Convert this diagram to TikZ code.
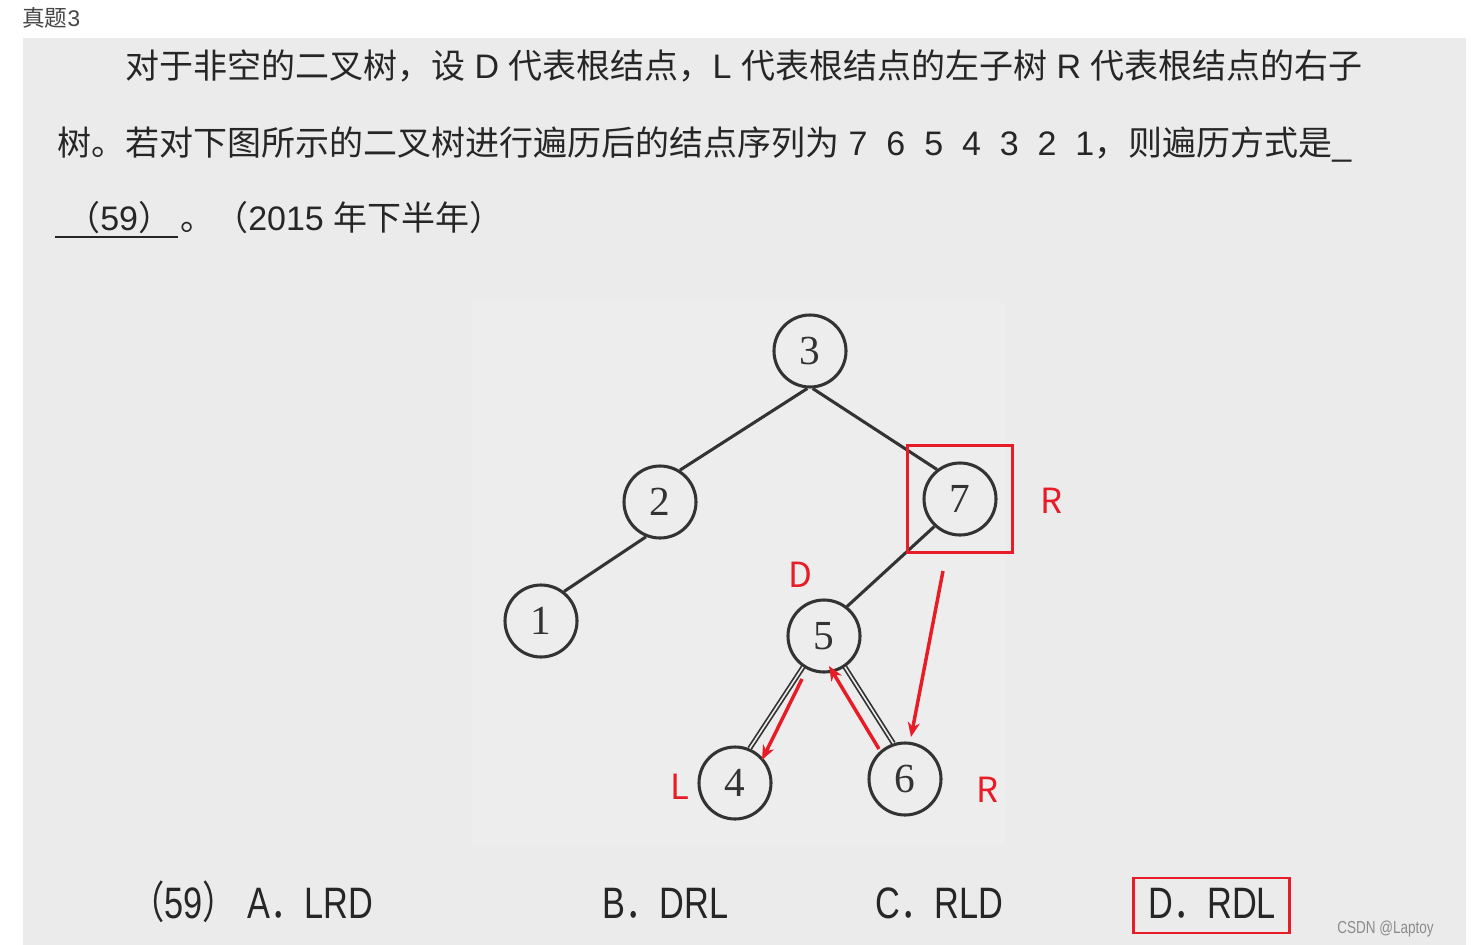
\documentclass[tikz,border=0pt]{standalone}
\usepackage{fontspec}
\setmainfont{Liberation Sans}
\newfontfamily\cjk{Noto Sans CJK SC}
\newfontfamily\narrow{Liberation Sans}[FakeStretch=0.78]
\newfontfamily\cjknarrow{Noto Sans CJK SC}[FakeStretch=0.78]
\newfontfamily\numfont{Liberation Serif}
\usetikzlibrary{arrows.meta}
\definecolor{panel}{HTML}{EBEBEB}
\definecolor{innerbg}{HTML}{EDEDED}
\definecolor{ink}{HTML}{262626}
\definecolor{treeline}{HTML}{333333}
\definecolor{mark}{RGB}{232,28,38}
\tikzset{
  treenode/.style={circle, draw=treeline, line width=2.3pt, minimum size=54pt, inner sep=0pt,
     font=\numfont\fontsize{31}{31}\selectfont, text=treeline},
  edge/.style={draw=treeline, line width=2.3pt},
  dedge/.style={draw=treeline, line width=1.3pt, double=innerbg, double distance=1.2pt},
  redarrow/.style={draw=mark, line width=2.6pt, -{Stealth[length=11pt,width=9pt]}},
  redlabel/.style={text=mark, font=\cjk\fontsize{26}{26}\selectfont, inner sep=0pt},
  txt/.style={anchor=base west, inner sep=0pt, text=ink, font=\fontsize{25.5}{25.5}\selectfont},
  opt/.style={anchor=base west, inner sep=0pt, text=ink, font=\narrow\fontsize{33}{33}\selectfont},
}
\begin{document}
\begin{tikzpicture}[x=0.75pt,y=-0.75pt]
\useasboundingbox (0,0) rectangle (1471,945);
\fill[white] (0,0) rectangle (1471,945);
\fill[panel] (23,38) rectangle (1466,945);
\fill[innerbg] (472,303) rectangle (1005,845);

% title
\node[anchor=base west, inner sep=0pt, text=ink!85, font=\cjk\fontsize{17}{17}\selectfont] (title) at (22,27) {真题{\fontspec{Liberation Sans}3}};

% question text
\node[txt] (line1) at (125,79) {{\cjk 对于非空的二叉树，设} D {\cjk 代表根结点，}L {\cjk 代表根结点的左子树} R {\cjk 代表根结点的右子}};
\node[txt] (line2) at (57,156) {{\cjk 树。若对下图所示的二叉树进行遍历后的结点序列为} 7\ \ 6\ \ 5\ \ 4\ \ 3\ \ 2\ \ 1{\cjk ，则遍历方式是}\_};
\node[txt] (line3a) at (66,231) {{\cjk （}59{\cjk ）}};
\coordinate (ulA) at (55,237);
\coordinate (ulB) at (178,237);
\draw[ink, line width=1.5pt] (ulA) -- (ulB);
\node[txt] (line3b) at (180,231) {{\cjk 。（}2015 {\cjk 年下半年）}};

% tree
\node[treenode] (n3) at (810,351) {3};
\node[treenode] (n2) at (660,502) {2};
\node[treenode] (n7) at (960,499) {7};
\node[treenode] (n1) at (541,621) {1};
\node[treenode] (n5) at (824,636) {5};
\node[treenode] (n4) at (735,783) {4};
\node[treenode] (n6) at (905,779) {6};
\draw[edge] (n3.266) -- (n2.58);
\draw[edge] (n3.274) -- (n7.128);
\draw[edge] (n2.248) -- (n1.52);
\draw[edge] (n7.227) -- (n5.52);
\draw[dedge] (n5.236) -- (n4.67);
\draw[dedge] (n5.304) -- (n6.108);

% red annotations
\node[draw=mark, line width=1.9pt, minimum width=79pt, minimum height=80pt, inner sep=0pt] (box7) at (960,499) {};
\node[redlabel] (rR1) at (1051,501) {R};
\node[redlabel] (rD) at (800,575) {D};
\node[redlabel] (rL) at (680,787) {L};
\node[redlabel] (rR2) at (987,790) {R};
\coordinate (a1s) at (943,571);
\coordinate (a1e) at (911,737);
\coordinate (a2s) at (802,679);
\coordinate (a2e) at (762,760);
\coordinate (a3s) at (879,749);
\coordinate (a3e) at (829,666);
\draw[redarrow] (a1s) -- (a1e);
\draw[redarrow] (a2s) -- (a2e);
\draw[redarrow] (a3s) -- (a3e);

% options
\node[opt] (o59) at (130,918) {{\cjknarrow （}59{\cjknarrow ）}};
\node[opt] (oA) at (247,918) {A{\cjknarrow ．}LRD};
\node[opt] (oB) at (602,918) {B{\cjknarrow ．}DRL};
\node[opt] (oC) at (875,918) {C{\cjknarrow ．}RLD};
\node[opt] (oD) at (1148,918) {D{\cjknarrow ．}RDL};
\node[draw=mark, line width=1.9pt, minimum width=117pt, minimum height=41pt, inner sep=0pt] (boxD) at (1211.5,905.5) {};

% watermark
\node[anchor=base west, inner sep=0pt, text=black!45, font=\narrow\fontsize{13}{13}\selectfont] (wm) at (1337,933) {CSDN @Laptoy};
\end{tikzpicture}
\end{document}
